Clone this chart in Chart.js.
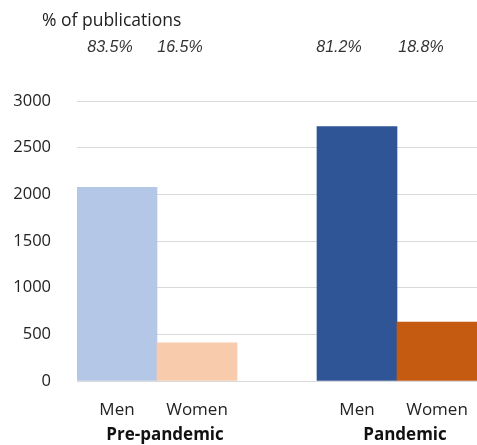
<!DOCTYPE html>
<html>
<head>
<meta charset="utf-8">
<script src="https://cdn.jsdelivr.net/npm/chart.js@4"></script>
<style>
  html, body { margin: 0; padding: 0; background: #fff; }
  canvas { display: block; }
</style>
</head>
<body>
<canvas id="chart" width="477" height="445"></canvas>
<script>
'use strict';

/* chart data */
let categories = ['Men', 'Women', '', 'Men', 'Women'];
let publications = [2075, 410, null, 2725, 630];
let pctLabels = ['83.5%', '16.5%', '', '81.2%', '18.8%'];
let groups = ['Pre-pandemic', 'Pandemic'];
let groupIdx = [[0, 1], [3, 4]];  //  which bars belong to each group
let yTicks = [0, 500, 1000, 1500, 2000, 2500, 3000];
let barColors = ['#B4C7E7', '#F8CBAD', '#ffffff', '#2F5597', '#C55A11'];

//  draws the top caption, percentage row and bold group labels
let extraText = {
  id: 'extraText',
  afterDraw(chart) {
    let ctx = chart.ctx;
    let meta = chart.getDatasetMeta(0);
    let pctShift = [-7, -17, 0, -18, -16];  //  percentages sit a bit left of the bar centres
    ctx.save();
    ctx.fillStyle = '#222';
    ctx.textBaseline = 'middle';

    ctx.font = '17.5px "Open Sans"';
    ctx.textAlign = 'left';
    ctx.fillText('% of publications', 42, 21);

    ctx.fillStyle = '#333';
    ctx.font = 'italic 16px "Liberation Sans"';
    ctx.textAlign = 'center';
    for (let idx = 0; idx < pctLabels.length; idx++) {
      if (pctLabels[idx] === '') continue;
      ctx.fillText(pctLabels[idx], meta.data[idx].x + pctShift[idx], 48);
    }

    ctx.fillStyle = '#111';
    ctx.font = 'bold 17px "Open Sans"';
    for (let g = 0; g < groups.length; g++) {
      let a = meta.data[groupIdx[g][0]].x;
      let b = meta.data[groupIdx[g][1]].x;
      ctx.fillText(groups[g], (a + b) / 2 + 8, 435);
    }
    ctx.restore();
  }
};

const config = {
  type: 'bar',
  data: {
    labels: categories,
    datasets: [{
      data: publications,
      backgroundColor: barColors,
      borderWidth: 0,
      categoryPercentage: 1,
      barPercentage: 1
    }]
  },
  options: {
    responsive: false,
    animation: false,
    layout: { padding: { top: 101, right: 0, bottom: 0, left: 0 } },
    plugins: {
      legend: { display: false },
      tooltip: { enabled: false }
    },
    scales: {
      x: {
        grid: { display: false, drawTicks: false },
        border: { display: false },
        ticks: {
          color: '#222',
          font: { family: 'Open Sans', size: 17 },
          padding: 19,
          maxRotation: 0
        },
        afterFit(scale) {
          scale.height = 64;
          scale.paddingLeft = 0;
          scale.paddingRight = 0;
        }
      },
      y: {
        min: 0,
        max: 3000,
        afterBuildTicks(scale) { scale.ticks = yTicks.map(v => ({ value: v })); },
        grid: { color: '#d9d9d9', lineWidth: 1, drawTicks: false },
        border: { display: false },
        ticks: {
          color: '#222',
          font: { family: 'Open Sans', size: 16.5 },
          padding: 26,
          callback: (v) => String(v)
        },
        afterFit(scale) { scale.width = 77; }
      }
    }
  },
  plugins: [extraText]
};

new Chart(document.getElementById('chart'), config);
</script>
</body>
</html>
